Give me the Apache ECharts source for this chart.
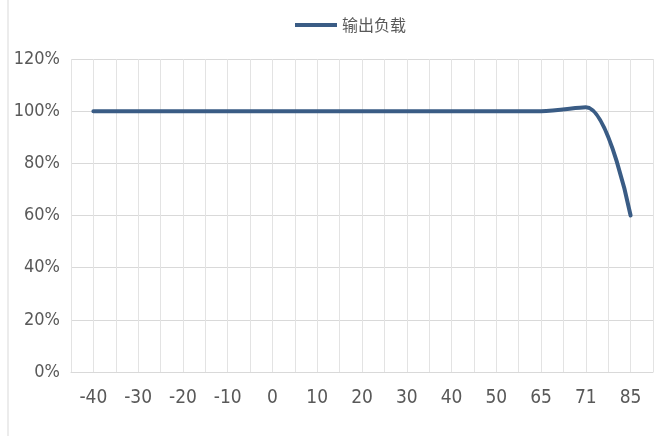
<!DOCTYPE html>
<html>
<head>
<meta charset="utf-8">
<style>
  html, body { margin: 0; padding: 0; background: #ffffff; }
  #chart { width: 664px; height: 436px; }
</style>
<script src="https://cdn.jsdelivr.net/npm/echarts@6/dist/echarts.min.js"></script>
</head>
<body>
<div id="chart"></div>
<script>
const seriesName = '输出负载';
const categories = ['-40', '-30', '-20', '-10', '0', '10', '20', '30', '40', '50', '65', '71', '85'];
const loadValues = [100, 100, 100, 100, 100, 100, 100, 100, 100, 100, 100, 101.5, 60];
const yTicks = [0, 20, 40, 60, 80, 100, 120];

const FONT = "'Liberation Sans Narrow', 'DejaVu Sans Condensed', 'Noto Sans', sans-serif";
const halfSlots = Array.from({ length: categories.length * 2 }, (_, i) => String(i));

const chart = echarts.init(document.getElementById('chart'), null, { renderer: 'canvas' });
chart.setOption({
  animation: false,
  backgroundColor: '#ffffff',
  graphic: [{
    type: 'line',
    shape: { x1: 8, y1: 0, x2: 8, y2: 436 },
    style: { stroke: '#d9d9d9', lineWidth: 1 }
  }],
  legend: {
    top: 12,
    left: 290,
    icon: 'rect',
    itemWidth: 42,
    itemHeight: 4,
    itemGap: 4,
    itemStyle: { color: '#3a5c85' },
    textStyle: { fontFamily: "'Noto Sans CJK SC', sans-serif", fontSize: 16, color: '#595959', padding: [0, 0, 0, 0] },
    data: [seriesName]
  },
  grid: { left: 71, right: 11, top: 59, bottom: 64, containLabel: false },
  xAxis: [{
    type: 'category',
    data: categories,
    boundaryGap: true,
    axisLine: { show: true, lineStyle: { color: '#d9d9d9', width: 1 } },
    axisTick: { show: false },
    axisLabel: { color: '#595959', fontSize: 19, fontFamily: FONT, margin: 17 },
    splitLine: { show: false }
  }, {
    type: 'category',
    data: halfSlots,
    boundaryGap: true,
    position: 'bottom',
    axisLine: { show: false },
    axisTick: { show: false },
    axisLabel: { show: false },
    splitLine: { show: true, interval: 0, lineStyle: { color: '#e3e3e3', width: 1 } }
  }],
  yAxis: {
    type: 'value',
    min: yTicks[0],
    max: yTicks[yTicks.length - 1],
    interval: 20,
    axisLine: { show: false },
    axisTick: { show: false },
    axisLabel: { formatter: '{value}%', color: '#595959', fontSize: 18, fontFamily: FONT, margin: 11 },
    splitLine: { show: true, lineStyle: { color: '#d9d9d9', width: 1 } }
  },
  series: [{
    name: seriesName,
    type: 'line',
    xAxisIndex: 0,
    data: loadValues,
    smooth: 0.35,
    showSymbol: false,
    symbol: 'none',
    lineStyle: { color: '#3a5c85', width: 4, cap: 'round' },
    itemStyle: { color: '#3a5c85' }
  }]
});
</script>
</body>
</html>
